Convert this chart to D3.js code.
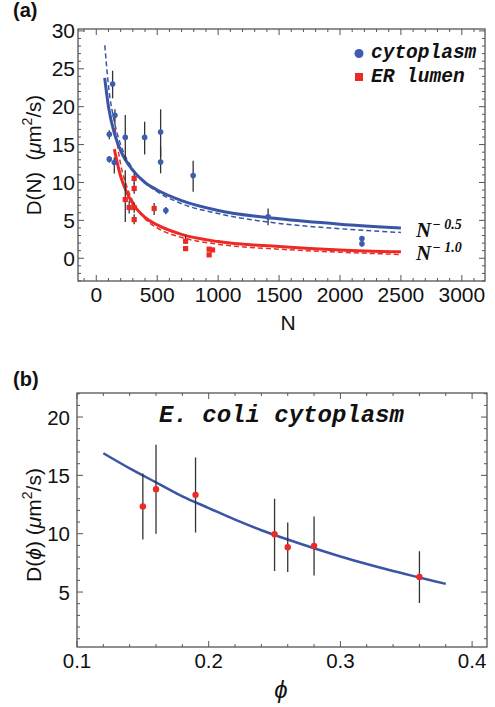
<!DOCTYPE html>
<html>
<head>
<meta charset="utf-8">
<script src="https://cdn.jsdelivr.net/npm/d3@7"></script>
<style>
  html, body { margin: 0; padding: 0; background: #fff; }
  svg { display: block; }
  text { font-family: "Liberation Sans", Arial, Helvetica, sans-serif; fill: #111; }
</style>
</head>
<body>
<svg id="chart" width="495" height="707"></svg>
<script>
// ---------- Panel (a) data ----------
const cytoN  = [107, 107, 134, 148, 153, 238, 397, 528, 528, 571, 795, 1410, 2180, 2180];
const cytoD  = [16.35, 13.08, 23.0, 12.64, 18.86, 15.95, 15.95, 16.65, 12.7, 6.3, 10.93, 5.46, 2.6, 1.9];
const cytoLo = [15.7, 12.6, 21.1, 11.2, 17.6, 12.9, 13.7, 13.4, 11.2, 5.8, 8.77, 4.36, 2.3, 1.6];
const cytoHi = [16.9, 13.5, 24.75, 13.3, 19.65, 18.9, 18.0, 19.65, 14.7, 6.78, 12.86, 6.57, 2.9, 2.2];

const erN  = [238, 270, 311, 311, 311, 311, 475, 733, 733, 926, 926, 954];
const erD  = [7.75, 6.7, 10.53, 9.21, 6.7, 5.1, 6.57, 2.25, 1.28, 1.2, 0.45, 1.1];
const erLo = [4.8, 5.9, 9.8, 8.5, 6.0, 4.5, 5.7, 1.9, 0.95, 1.2, 0.45, 1.1];
const erHi = [11.6, 7.6, 11.2, 9.9, 7.4, 5.8, 7.3, 3.0, 1.6, 1.2, 0.45, 1.1];

const cytoFitN     = [69, 100, 150, 200, 300, 400, 500, 700, 1000, 1500, 2000, 2500];
const cytoFitD     = [23.8, 20.0, 16.4, 14.2, 11.6, 10.0, 9.0, 7.6, 6.3, 5.2, 4.5, 4.0];
const cytoDashN    = [70, 100, 150, 200, 300, 400, 500, 700, 1000, 1500, 2000, 2500];
const cytoDashD    = [28.1, 22.8, 17.9, 15.0, 11.8, 10.0, 8.8, 7.2, 5.9, 4.6, 3.9, 3.4];
const erFitN       = [148, 200, 250, 300, 400, 500, 700, 1000, 1500, 2000, 2500];
const erFitD       = [14.4, 10.8, 8.7, 7.2, 5.4, 4.4, 3.15, 2.2, 1.55, 1.1, 0.85];
const erDashN      = [153, 200, 250, 300, 400, 500, 700, 1000, 1500, 2000, 2500];
const erDashD      = [17.2, 12.4, 9.5, 7.5, 5.2, 4.0, 2.75, 1.85, 1.2, 0.8, 0.5];

const aXTicks = [0, 500, 1000, 1500, 2000, 2500, 3000];
const aYTicks = [0, 5, 10, 15, 20, 25, 30];
const legendLabels = ["cytoplasm", "ER lumen"];
const powerLabels = ["0.5", "1.0"];

// ---------- Panel (b) data ----------
const phi    = [0.15, 0.16, 0.19, 0.25, 0.26, 0.28, 0.36];
const phiD   = [12.33, 13.82, 13.33, 9.96, 8.84, 8.95, 6.3];
const phiLo  = [9.5, 9.99, 10.1, 6.8, 6.72, 6.41, 4.06];
const phiHi  = [15.17, 17.62, 16.54, 13.0, 10.96, 11.47, 8.5];
const phiFitX = [0.12, 0.14, 0.16, 0.18, 0.20, 0.22, 0.24, 0.26, 0.28, 0.30, 0.32, 0.34, 0.36, 0.38];
const phiFitD = [16.9, 15.6, 14.4, 13.2, 12.2, 11.2, 10.3, 9.5, 8.75, 8.05, 7.4, 6.8, 6.25, 5.7];
const bXTicks = [0.1, 0.2, 0.3, 0.4];
const bYTicks = [5, 10, 15, 20];

// ---------- styles ----------
const BLUE = "#3a55a6", BLUE_PT = "#3d5db0", RED = "#ec2a25", ERR = "#333";
const FRAME = "#555";

const svg = d3.select("#chart");

function frame(g, x, y, xMajor, xMinor, yMajor, yMinor, xFmt, yFmt, fs, yLabelGap) {
  const [x0, x1] = x.range(), [y0, y1] = y.range();
  const tk = g.append("g").attr("stroke", FRAME).attr("stroke-width", 1);
  xMinor.forEach(v => {
    tk.append("line").attr("x1", x(v)).attr("x2", x(v)).attr("y1", y0).attr("y2", y0 - 3);
    tk.append("line").attr("x1", x(v)).attr("x2", x(v)).attr("y1", y1).attr("y2", y1 + 3);
  });
  xMajor.forEach(v => {
    tk.append("line").attr("x1", x(v)).attr("x2", x(v)).attr("y1", y0).attr("y2", y0 - 6);
    tk.append("line").attr("x1", x(v)).attr("x2", x(v)).attr("y1", y1).attr("y2", y1 + 6);
  });
  yMinor.forEach(v => {
    tk.append("line").attr("y1", y(v)).attr("y2", y(v)).attr("x1", x0).attr("x2", x0 + 3);
    tk.append("line").attr("y1", y(v)).attr("y2", y(v)).attr("x1", x1).attr("x2", x1 - 3);
  });
  yMajor.forEach(v => {
    tk.append("line").attr("y1", y(v)).attr("y2", y(v)).attr("x1", x0).attr("x2", x0 + 6);
    tk.append("line").attr("y1", y(v)).attr("y2", y(v)).attr("x1", x1).attr("x2", x1 - 6);
  });
  g.append("rect").attr("x", x0).attr("y", y1).attr("width", x1 - x0).attr("height", y0 - y1)
    .attr("fill", "none").attr("stroke", FRAME).attr("stroke-width", 1.3);
  xMajor.forEach(v => {
    g.append("text").attr("x", x(v)).attr("y", y0 + 20.5).attr("text-anchor", "middle")
      .attr("font-size", fs).text(xFmt(v));
  });
  yMajor.forEach(v => {
    g.append("text").attr("x", x0 - yLabelGap).attr("y", y(v) + 7.5).attr("text-anchor", "end")
      .attr("font-size", fs).text(yFmt(v));
  });
}

function range(a, b, s) { const r = []; for (let v = a; v <= b + 1e-9; v += s) r.push(+v.toFixed(4)); return r; }

// ================= Panel (a) =================
const xa = d3.scaleLinear().domain([-150, 3190]).range([78, 485]);
const ya = d3.scaleLinear().domain([-3, 30.25]).range([281, 29]);
const ga = svg.append("g");

frame(ga, xa, ya, aXTicks, range(-100, 3100, 100).filter(v => v % 500 !== 0),
      aYTicks, range(-3, 30, 1).filter(v => v % 5 !== 0),
      d => d, d => d, 21, 3);

const lineA = (X, Y) => d3.line().x((d, i) => xa(X[i])).y((d, i) => ya(Y[i])).curve(d3.curveMonotoneX)(X);

ga.append("path").attr("d", lineA(cytoDashN, cytoDashD)).attr("fill", "none")
  .attr("stroke", BLUE).attr("stroke-width", 1.5).attr("stroke-dasharray", "5,3");
ga.append("path").attr("d", lineA(erDashN, erDashD)).attr("fill", "none")
  .attr("stroke", RED).attr("stroke-width", 1.5).attr("stroke-dasharray", "5,3");
ga.append("path").attr("d", lineA(cytoFitN, cytoFitD)).attr("fill", "none")
  .attr("stroke", BLUE).attr("stroke-width", 3);
ga.append("path").attr("d", lineA(erFitN, erFitD)).attr("fill", "none")
  .attr("stroke", RED).attr("stroke-width", 3);

cytoN.forEach((n, i) => {
  ga.append("line").attr("x1", xa(n)).attr("x2", xa(n)).attr("y1", ya(cytoLo[i])).attr("y2", ya(cytoHi[i]))
    .attr("stroke", ERR).attr("stroke-width", 1.3);
});
erN.forEach((n, i) => {
  if (erHi[i] > erLo[i])
    ga.append("line").attr("x1", xa(n)).attr("x2", xa(n)).attr("y1", ya(erLo[i])).attr("y2", ya(erHi[i]))
      .attr("stroke", ERR).attr("stroke-width", 1.3);
});
cytoN.forEach((n, i) => {
  ga.append("circle").attr("cx", xa(n)).attr("cy", ya(cytoD[i])).attr("r", 2.8).attr("fill", BLUE_PT);
});
erN.forEach((n, i) => {
  ga.append("rect").attr("x", xa(n) - 2.6).attr("y", ya(erD[i]) - 2.6).attr("width", 5.2).attr("height", 5.2)
    .attr("fill", RED);
});

// legend
ga.append("circle").attr("cx", 359).attr("cy", 53.5).attr("r", 4.5).attr("fill", BLUE_PT);
ga.append("rect").attr("x", 355).attr("y", 73).attr("width", 8).attr("height", 8).attr("fill", RED);
legendLabels.forEach((t, i) => {
  ga.append("text").attr("x", 371).attr("y", 58 + i * 24)
    .style("font-family", "'Liberation Mono', 'Courier New', monospace")
    .attr("font-weight", "bold").attr("font-style", "italic").attr("font-size", 19.5).text(t);
});

// power-law labels
[[237, 229], [259.5, 251]].forEach((p, i) => {
  const t = ga.append("text").attr("x", 416).attr("y", p[0])
    .style("font-family", "'Liberation Serif', 'Times New Roman', serif")
    .attr("font-weight", "bold").attr("font-style", "italic").attr("font-size", 21);
  t.append("tspan").text("N");
  t.append("tspan").attr("font-size", 14).attr("dy", -8).attr("dx", 1).text("\u2212 " + powerLabels[i]);
});

// axis titles
ga.append("text").attr("x", 288).attr("y", 330).attr("text-anchor", "middle").attr("font-size", 21).text("N");
const yta = ga.append("text").attr("transform", "translate(41,155) rotate(-90)").attr("text-anchor", "middle").attr("font-size", 20.5);
yta.append("tspan").text("D(N)\u00a0\u00a0(");
yta.append("tspan").attr("font-style", "italic").text("\u03bc");
yta.append("tspan").text("m");
yta.append("tspan").attr("font-size", 14).attr("dy", -9).text("2");
yta.append("tspan").attr("dy", 9).text("/s)");

ga.append("text").attr("x", 13).attr("y", 17).attr("font-weight", "bold").attr("font-size", 20).text("(a)");

// ================= Panel (b) =================
const xb = d3.scaleLinear().domain([0.1, 0.4113]).range([77, 487]);
const yb = d3.scaleLinear().domain([0.29, 22.06]).range([647, 393]);
const gb = svg.append("g");

frame(gb, xb, yb, bXTicks, range(0.12, 0.40, 0.02).filter(v => Math.abs(v * 10 - Math.round(v * 10)) > 1e-6),
      bYTicks, range(1, 22, 1).filter(v => v % 5 !== 0),
      d => d.toFixed(1), d => d, 20.5, 7);

gb.append("path")
  .attr("d", d3.line().x((d, i) => xb(phiFitX[i])).y((d, i) => yb(phiFitD[i])).curve(d3.curveMonotoneX)(phiFitX))
  .attr("fill", "none").attr("stroke", BLUE).attr("stroke-width", 2.5);

phi.forEach((p, i) => {
  gb.append("line").attr("x1", xb(p)).attr("x2", xb(p)).attr("y1", yb(phiLo[i])).attr("y2", yb(phiHi[i]))
    .attr("stroke", ERR).attr("stroke-width", 1.3);
});
phi.forEach((p, i) => {
  gb.append("circle").attr("cx", xb(p)).attr("cy", yb(phiD[i])).attr("r", 3.2).attr("fill", RED);
});

gb.append("text").attr("x", 281.5).attr("y", 421.5).attr("text-anchor", "middle")
  .style("font-family", "'Liberation Mono', 'Courier New', monospace")
  .attr("font-weight", "bold").attr("font-style", "italic").attr("font-size", 24).text("E. coli cytoplasm");

gb.append("text").attr("x", 281).attr("y", 698).attr("text-anchor", "middle")
  .attr("font-style", "italic").attr("font-size", 24).text("\u03d5");
const ytb = gb.append("text").attr("transform", "translate(41,525) rotate(-90)").attr("text-anchor", "middle").attr("font-size", 21);
ytb.append("tspan").text("D(");
ytb.append("tspan").attr("font-style", "italic").text("\u03d5");
ytb.append("tspan").text(")\u00a0(");
ytb.append("tspan").attr("font-style", "italic").text("\u03bc");
ytb.append("tspan").text("m");
ytb.append("tspan").attr("font-size", 14).attr("dy", -9).text("2");
ytb.append("tspan").attr("dy", 9).text("/s)");

gb.append("text").attr("x", 13).attr("y", 386).attr("font-weight", "bold").attr("font-size", 20).text("(b)");
</script>
</body>
</html>
